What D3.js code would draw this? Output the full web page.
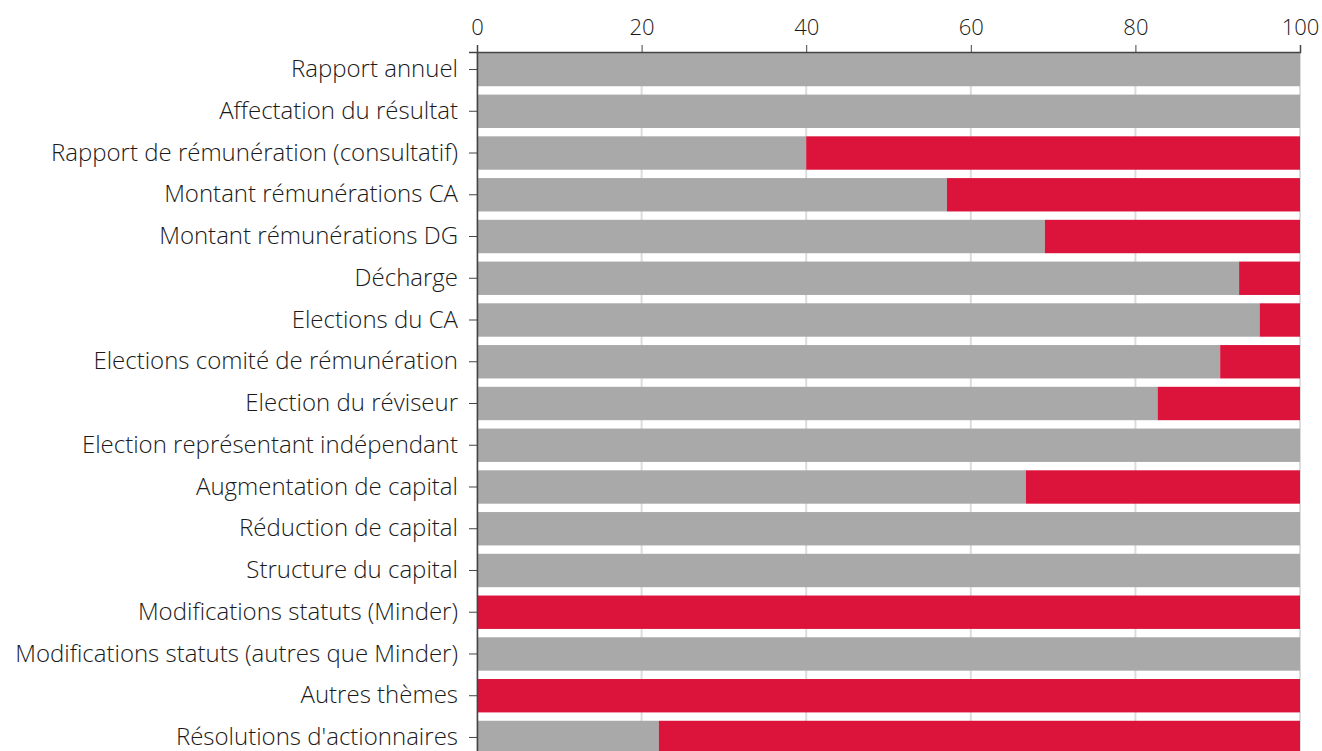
<!DOCTYPE html>
<html>
<head>
<meta charset="utf-8">
<script src="https://cdn.jsdelivr.net/npm/d3@7"></script>
<style>
  body { margin: 0; background: #fff; }
  text { font-family: "Open Sans", "Liberation Sans", sans-serif; font-weight: 300; fill: #1a1a1a; }
</style>
</head>
<body>
<div id="chart"></div>
<script>
const svgWidth = 1322;
const svgHeight = 751;

// categories and values (share in %, gray = approved, red = rejected)
const categories = [
  "Rapport annuel",
  "Affectation du résultat",
  "Rapport de rémunération (consultatif)",
  "Montant rémunérations CA",
  "Montant rémunérations DG",
  "Décharge",
  "Elections du CA",
  "Elections comité de rémunération",
  "Election du réviseur",
  "Election représentant indépendant",
  "Augmentation de capital",
  "Réduction de capital",
  "Structure du capital",
  "Modifications statuts (Minder)",
  "Modifications statuts (autres que Minder)",
  "Autres thèmes",
  "Résolutions d'actionnaires"
];
const grayValues = [100, 100, 40, 57.1, 69, 92.6, 95.1, 90.3, 82.7, 100, 66.7, 100, 100, 0, 100, 0, 22.1];
const redValues = grayValues.map(v => 100 - v);
const xTicks = [0, 20, 40, 60, 80, 100];

const rows = categories.map((c, i) => ({ name: c, gray: grayValues[i], red: redValues[i] }));

const svg = d3.select("#chart")
  .append("svg")
  .attr("width", svgWidth)
  .attr("height", svgHeight);

const x = d3.scaleLinear().domain([0, 100]).range([477, 1300]);
const y = d3.scaleBand()
  .domain(categories)
  .range([52, 755])
  .paddingInner(0.2)
  .paddingOuter(0.02);

// gridlines
svg.append("g")
  .selectAll("line")
  .data(xTicks)
  .enter()
  .append("line")
  .attr("x1", d => x(d))
  .attr("x2", d => x(d))
  .attr("y1", 52)
  .attr("y2", svgHeight)
  .attr("stroke", "#dcdcdc")
  .attr("stroke-width", 2);

// gray part
svg.append("g")
  .selectAll("rect")
  .data(rows)
  .enter()
  .append("rect")
  .attr("x", x(0))
  .attr("y", d => y(d.name))
  .attr("width", d => x(d.gray) - x(0))
  .attr("height", y.bandwidth())
  .attr("fill", "#a9a9a9");

// red part
svg.append("g")
  .selectAll("rect")
  .data(rows)
  .enter()
  .append("rect")
  .attr("x", d => x(d.gray))
  .attr("y", d => y(d.name))
  .attr("width", d => x(100) - x(d.gray))
  .attr("height", y.bandwidth())
  .attr("fill", "#dc143c");

// top axis
const topAxis = svg.append("g")
  .attr("transform", "translate(0,52)")
  .call(d3.axisTop(x).tickValues(xTicks).tickSize(7).tickPadding(10));
topAxis.select(".domain").attr("stroke", "#444").attr("stroke-width", 1.5);
topAxis.selectAll(".tick line").attr("stroke", "#444");
topAxis.selectAll("text").attr("font-size", 22).attr("fill", "#1a1a1a")
  .attr("font-family", "'Open Sans', sans-serif");

// left axis
const leftAxis = svg.append("g")
  .attr("transform", `translate(${x(0)},0)`)
  .call(d3.axisLeft(y).tickSize(8).tickPadding(11));
leftAxis.select(".domain").attr("stroke", "#444").attr("stroke-width", 1.5);
leftAxis.selectAll(".tick line").attr("stroke", "#444");
leftAxis.selectAll("text").attr("font-size", 24).attr("fill", "#1a1a1a")
  .attr("font-family", "'Open Sans', sans-serif");
</script>
</body>
</html>
